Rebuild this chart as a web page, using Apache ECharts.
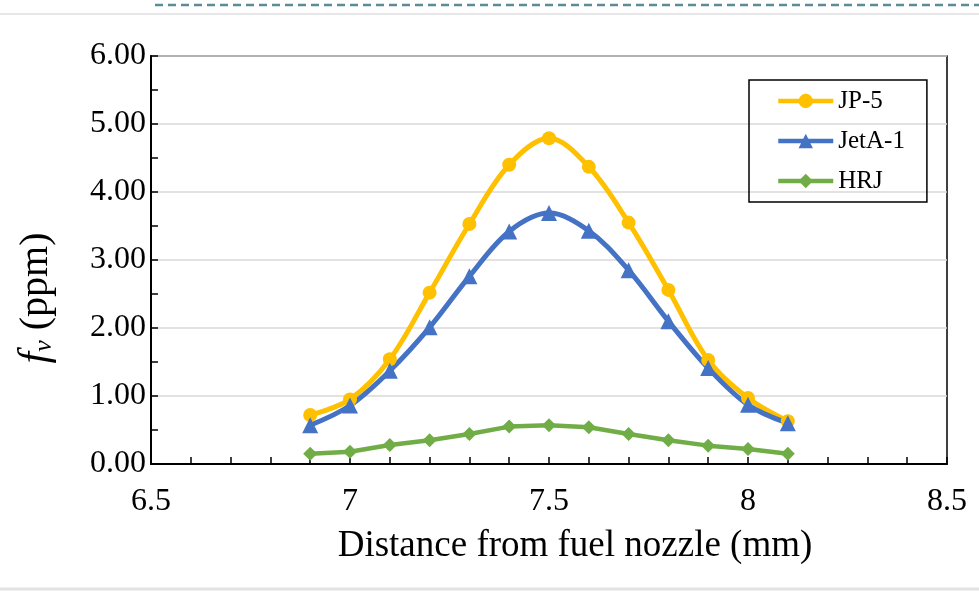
<!DOCTYPE html>
<html>
<head>
<meta charset="utf-8">
<script src="https://cdn.jsdelivr.net/npm/echarts@6/dist/echarts.min.js"></script>
<style>
  html, body { margin: 0; padding: 0; background: #fff; }
  #chart { width: 979px; height: 592px; }
</style>
</head>
<body>
<div id="chart"></div>
<script>
// Soot volume fraction measured along the flame, per fuel
const distances = [6.9, 7.0, 7.1, 7.2, 7.3, 7.4, 7.5, 7.6, 7.7, 7.8, 7.9, 8.0, 8.1];
const jp5 = [0.72, 0.95, 1.54, 2.52, 3.53, 4.40, 4.79, 4.37, 3.55, 2.56, 1.53, 0.97, 0.63];
const jetA1 = [0.57, 0.86, 1.37, 2.01, 2.76, 3.42, 3.69, 3.43, 2.85, 2.10, 1.41, 0.87, 0.60];
const hrj = [0.15, 0.18, 0.28, 0.35, 0.44, 0.55, 0.57, 0.54, 0.44, 0.35, 0.27, 0.22, 0.15];
const seriesNames = ['JP-5', 'JetA-1', 'HRJ'];
const xTicks = { min: 6.5, max: 8.5, step: 0.5 };
const yTicks = { min: 0, max: 6, step: 1 };

const serif = '"Liberation Serif", "Times New Roman", serif';
const pairs = vals => distances.map((d, i) => [d, vals[i]]);

const chart = echarts.init(document.getElementById('chart'), null, { renderer: 'canvas' });

chart.setOption({
  animation: false,
  backgroundColor: '#fff',
  textStyle: { fontFamily: serif, color: '#000' },
  graphic: [
    { type: 'line', shape: { x1: 155, y1: 5, x2: 979, y2: 5 },
      style: { stroke: '#5b8d96', lineWidth: 2.5, lineDash: [8, 5] } },
    { type: 'line', shape: { x1: 0, y1: 14, x2: 979, y2: 14 },
      style: { stroke: '#e6e6e6', lineWidth: 2 } },
    { type: 'line', shape: { x1: 0, y1: 589, x2: 979, y2: 589 },
      style: { stroke: '#e2e2e2', lineWidth: 3 } }
  ],
  grid: {
    left: 151, right: 32, top: 56, bottom: 128,
    show: true, borderColor: '#000', borderWidth: 1.5
  },
  legend: {
    orient: 'vertical',
    left: 749, top: 80,
    data: seriesNames,
    itemWidth: 55, itemHeight: 18, itemGap: 12, itemTextGap: 5,
    padding: [7, 22, 7, 27],
    borderColor: '#000', borderWidth: 1.5,
    lineStyle: { width: 4.5 },
    textStyle: { fontFamily: serif, fontSize: 25, color: '#000', lineHeight: 28 }
  },
  xAxis: {
    type: 'value',
    min: xTicks.min, max: xTicks.max, interval: xTicks.step,
    name: 'Distance from fuel nozzle (mm)',
    nameLocation: 'middle', nameGap: 64,
    nameTextStyle: { fontFamily: serif, fontSize: 37, color: '#000', padding: [0, 0, 0, 52] },
    axisLine: { show: true, onZero: false, lineStyle: { color: '#000', width: 2 } },
    axisTick: { show: true, inside: true, length: 7, lineStyle: { color: '#000', width: 1.5 } },
    minorTick: { show: true, splitNumber: 5, length: 7, lineStyle: { color: '#000', width: 1.5 } },
    axisLabel: { fontFamily: serif, fontSize: 32, color: '#000', margin: 22,
      formatter: v => String(+v.toFixed(1)) },
    splitLine: { show: false }
  },
  yAxis: {
    type: 'value',
    min: yTicks.min, max: yTicks.max, interval: yTicks.step,
    name: '{i|f}{s|v} {n|(ppm)}',
    nameLocation: 'middle', nameGap: 94, nameRotate: 90,
    nameTextStyle: {
      fontFamily: serif, fontSize: 40, color: '#000',
      padding: [0, 76, 0, 0],
      rich: {
        i: { fontFamily: serif, fontStyle: 'italic', fontSize: 42, lineHeight: 42 },
        s: { fontFamily: serif, fontStyle: 'italic', fontSize: 26, lineHeight: 16, verticalAlign: 'bottom' },
        n: { fontFamily: serif, fontSize: 40, lineHeight: 42 }
      }
    },
    axisLine: { show: true, lineStyle: { color: '#000', width: 2 } },
    axisTick: { show: true, inside: true, length: 7, lineStyle: { color: '#000', width: 1.5 } },
    minorTick: { show: true, splitNumber: 2, length: 7, lineStyle: { color: '#000', width: 1.5 } },
    axisLabel: { fontFamily: serif, fontSize: 32, color: '#000', margin: 5,
      formatter: v => v.toFixed(2) },
    splitLine: { show: true, lineStyle: { color: '#d9d9d9', width: 1.5 } }
  },
  series: [
    {
      name: seriesNames[0], type: 'line', data: pairs(jp5),
      smooth: 0.35, symbol: 'circle', symbolSize: 14,
      itemStyle: { color: '#FFC000' },
      lineStyle: { color: '#FFC000', width: 5 }
    },
    {
      name: seriesNames[1], type: 'line', data: pairs(jetA1),
      smooth: 0.35, symbol: 'triangle', symbolSize: 16,
      itemStyle: { color: '#4472C4' },
      lineStyle: { color: '#4472C4', width: 5 }
    },
    {
      name: seriesNames[2], type: 'line', data: pairs(hrj),
      smooth: false, symbol: 'diamond', symbolSize: 14,
      itemStyle: { color: '#70AD47' },
      lineStyle: { color: '#70AD47', width: 4.5 }
    }
  ]
});
</script>
</body>
</html>
